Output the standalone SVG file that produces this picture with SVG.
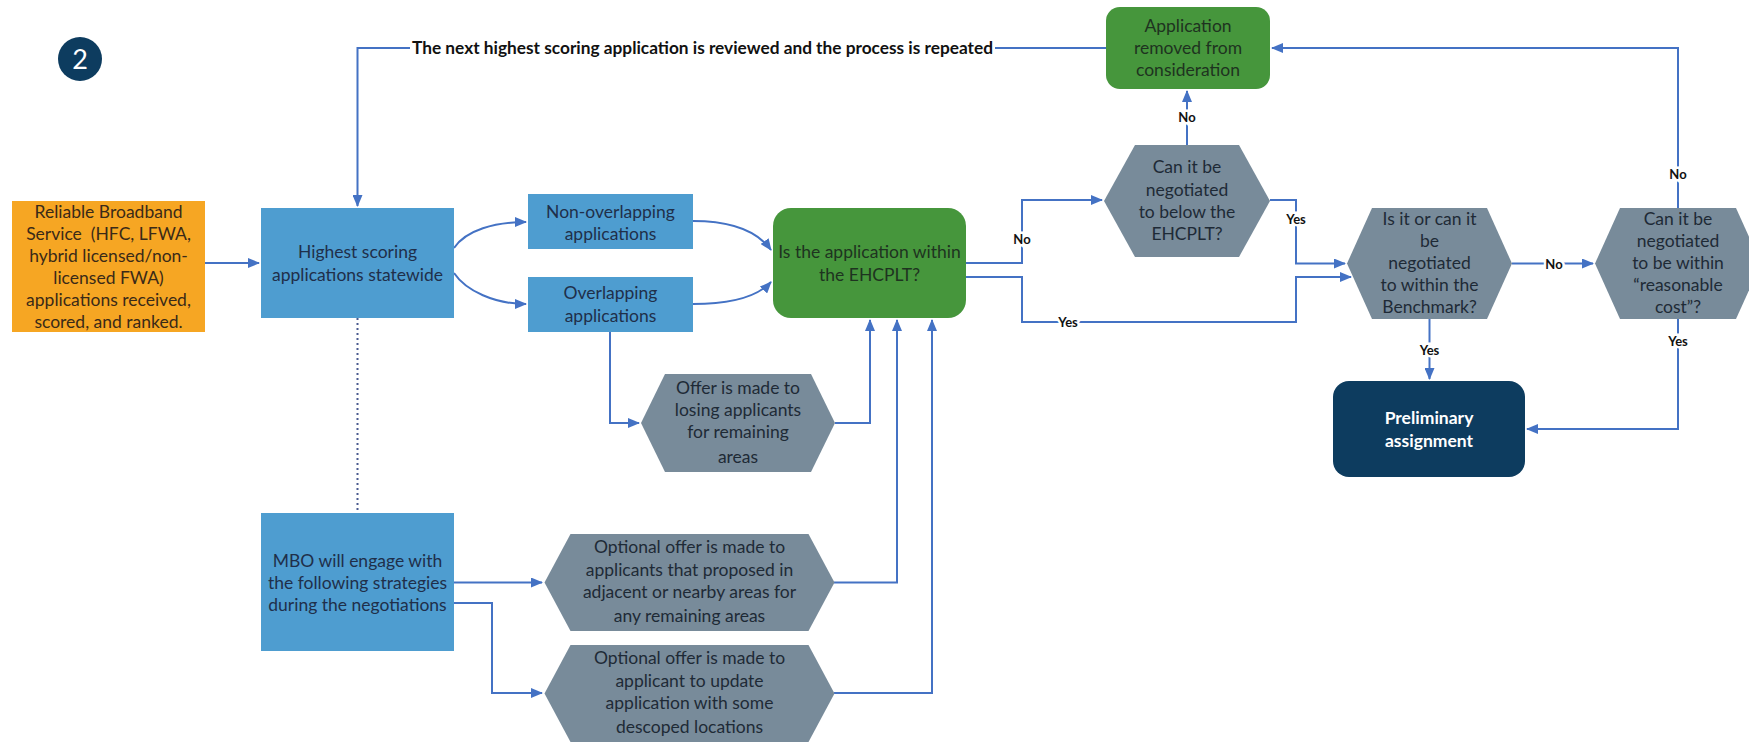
<svg xmlns="http://www.w3.org/2000/svg" width="1749" height="744" viewBox="0 0 1749 744">
<defs>
<marker id="arr" markerUnits="userSpaceOnUse" markerWidth="12" markerHeight="10" refX="11" refY="5" orient="auto">
<path d="M0,0 L12,5 L0,10 Z" fill="#4472C4"/>
</marker>
<style>
.t{font-family:Lato,"Liberation Sans",sans-serif;font-size:17.5px;text-anchor:middle}
.dk{fill:#1F2F4A}
.or{fill:#3A2A18}
.gr{fill:#1E3320}
.hx{fill:#1E2A36}
.wb{fill:#FFFFFF;font-weight:bold}
.c{fill:none;stroke:#4472C4;stroke-width:2}
.a{marker-end:url(#arr)}
.lb{font-family:Lato,"Liberation Sans",sans-serif;font-size:13px;font-weight:bold;fill:#111;text-anchor:middle;dominant-baseline:central;stroke:#fff;stroke-width:5;paint-order:stroke}
.blue{fill:#4E9DD0}
.hexf{fill:#788B9A}
.green{fill:#46963C}
</style>
</defs>
<rect width="1749" height="744" fill="#fff"/>

<g id="badge">
<circle cx="80" cy="59" r="22" fill="#0D3C5F"/>
<text x="80" y="69" style="font-family:Lato,'Liberation Sans',sans-serif;font-size:27px;fill:#fff;text-anchor:middle">2</text>
</g>

<g id="connectors">
<path class="c a" d="M205,263 H259"/>
<path class="c" d="M1106,48 H995"/>
<path class="c a" d="M410,48 H357.5 V206"/>
<path d="M357.5,318 V513" fill="none" stroke="#4A5A8F" stroke-width="2" stroke-dasharray="2,3"/>
<path class="c a" d="M454,248 C466,230 495,222 526,222"/>
<path class="c a" d="M454,273 C466,291 495,304 526,304"/>
<path class="c a" d="M693,221 C735,221 758,232 771,250"/>
<path class="c a" d="M693,304 C735,304 758,296 771,282"/>
<path class="c a" d="M610,332 V423 H639"/>
<path class="c a" d="M835,423 H870 V320"/>
<path class="c a" d="M834,582.5 H897 V320"/>
<path class="c a" d="M834,693 H932 V320"/>
<path class="c a" d="M454,582.5 H542"/>
<path class="c a" d="M454,603 H492 V693 H542"/>
<path class="c a" d="M966,263 H1022 V200 H1102"/>
<path class="c a" d="M966,277 H1022 V322 H1296 V277 H1351"/>
<path class="c a" d="M1187,145 V91"/>
<path class="c a" d="M1270,200 H1296 V263.5 H1345"/>
<path class="c a" d="M1512,263.5 H1593"/>
<path class="c a" d="M1678,208 V48 H1272"/>
<path class="c a" d="M1678,319 V429 H1527"/>
<path class="c a" d="M1429.5,319 V379"/>
<text class="lb" x="1022" y="239">No</text>
<text class="lb" x="1068" y="322">Yes</text>
<text class="lb" x="1187" y="117">No</text>
<text class="lb" x="1296" y="219">Yes</text>
<text class="lb" x="1554" y="263.5">No</text>
<text class="lb" x="1678" y="174">No</text>
<text class="lb" x="1678" y="341">Yes</text>
<text class="lb" x="1429.5" y="350">Yes</text>
<text x="412" y="54" textLength="581" lengthAdjust="spacingAndGlyphs" style="font-family:Lato,'Liberation Sans',sans-serif;font-size:16.5px;font-weight:bold;fill:#111">The next highest scoring application is reviewed and the process is repeated</text>
</g>

<g id="n-source">
<rect x="12" y="201" width="193" height="131" fill="#F6A623"/>
<text class="t or" xml:space="preserve"><tspan x="108.5" y="218">Reliable Broadband</tspan><tspan x="108.5" y="240">Service  (HFC, LFWA,</tspan><tspan x="108.5" y="262">hybrid licensed/non-</tspan><tspan x="108.5" y="284">licensed FWA)</tspan><tspan x="108.5" y="306">applications received,</tspan><tspan x="108.5" y="328">scored, and ranked.</tspan></text>
</g>

<g id="n-highest">
<rect class="blue" x="261" y="208" width="193" height="110"/>
<text class="t dk"><tspan x="357.5" y="258">Highest scoring</tspan><tspan x="357.5" y="281">applications statewide</tspan></text>
</g>

<g id="n-nonoverlap">
<rect class="blue" x="528" y="194" width="165" height="55"/>
<text class="t dk"><tspan x="610.5" y="218">Non-overlapping</tspan><tspan x="610.5" y="240">applications</tspan></text>
</g>

<g id="n-overlap">
<rect class="blue" x="528" y="277" width="165" height="55"/>
<text class="t dk"><tspan x="610.5" y="299">Overlapping</tspan><tspan x="610.5" y="322">applications</tspan></text>
</g>

<g id="n-within">
<rect class="green" x="773" y="208" width="193" height="110" rx="18"/>
<text class="t gr"><tspan x="869.5" y="258">Is the application within</tspan><tspan x="869.5" y="281">the EHCPLT?</tspan></text>
</g>

<g id="n-losing">
<polygon class="hexf" points="641,423 665,374 811,374 835,423 811,472 665,472"/>
<text class="t hx"><tspan x="738" y="394">Offer is made to</tspan><tspan x="738" y="416">losing applicants</tspan><tspan x="738" y="438">for remaining</tspan><tspan x="738" y="463">areas</tspan></text>
</g>

<g id="n-mbo">
<rect class="blue" x="261" y="513" width="193" height="138"/>
<text class="t dk"><tspan x="357.5" y="567">MBO will engage with</tspan><tspan x="357.5" y="589">the following strategies</tspan><tspan x="357.5" y="611">during the negotiations</tspan></text>
</g>

<g id="n-adjacent">
<polygon class="hexf" points="544.5,582.5 570.5,534 808.5,534 834.5,582.5 808.5,631 570.5,631"/>
<text class="t hx"><tspan x="689.5" y="553">Optional offer is made to</tspan><tspan x="689.5" y="576">applicants that proposed in</tspan><tspan x="689.5" y="598">adjacent or nearby areas for</tspan><tspan x="689.5" y="622">any remaining areas</tspan></text>
</g>

<g id="n-descoped">
<polygon class="hexf" points="544.5,693.5 570.5,645 808.5,645 834.5,693.5 808.5,742 570.5,742"/>
<text class="t hx"><tspan x="689.5" y="664">Optional offer is made to</tspan><tspan x="689.5" y="687">applicant to update</tspan><tspan x="689.5" y="709">application with some</tspan><tspan x="689.5" y="733">descoped locations</tspan></text>
</g>

<g id="n-removed">
<rect class="green" x="1106" y="7" width="164" height="82" rx="14"/>
<text class="t gr"><tspan x="1188" y="32">Application</tspan><tspan x="1188" y="54">removed from</tspan><tspan x="1188" y="76">consideration</tspan></text>
</g>

<g id="n-below">
<polygon class="hexf" points="1104,201 1135,145 1239,145 1270,201 1239,257 1135,257"/>
<text class="t hx"><tspan x="1187" y="173">Can it be</tspan><tspan x="1187" y="196">negotiated</tspan><tspan x="1187" y="218">to below the</tspan><tspan x="1187" y="240">EHCPLT?</tspan></text>
</g>

<g id="n-benchmark">
<polygon class="hexf" points="1347,263.5 1372,208 1487,208 1512,263.5 1487,319 1372,319"/>
<text class="t hx"><tspan x="1429.5" y="225">Is it or can it</tspan><tspan x="1429.5" y="247">be</tspan><tspan x="1429.5" y="269">negotiated</tspan><tspan x="1429.5" y="291">to within the</tspan><tspan x="1429.5" y="313">Benchmark?</tspan></text>
</g>

<g id="n-reasonable">
<polygon class="hexf" points="1595,263.5 1620,208 1736,208 1761,263.5 1736,319 1620,319"/>
<text class="t hx"><tspan x="1678" y="225">Can it be</tspan><tspan x="1678" y="247">negotiated</tspan><tspan x="1678" y="269">to be within</tspan><tspan x="1678" y="291">“reasonable</tspan><tspan x="1678" y="313">cost”?</tspan></text>
</g>

<g id="n-prelim">
<rect x="1333" y="381" width="192" height="96" rx="16" fill="#0D3C5F"/>
<text class="t wb"><tspan x="1429" y="424">Preliminary</tspan><tspan x="1429" y="447">assignment</tspan></text>
</g>
</svg>
